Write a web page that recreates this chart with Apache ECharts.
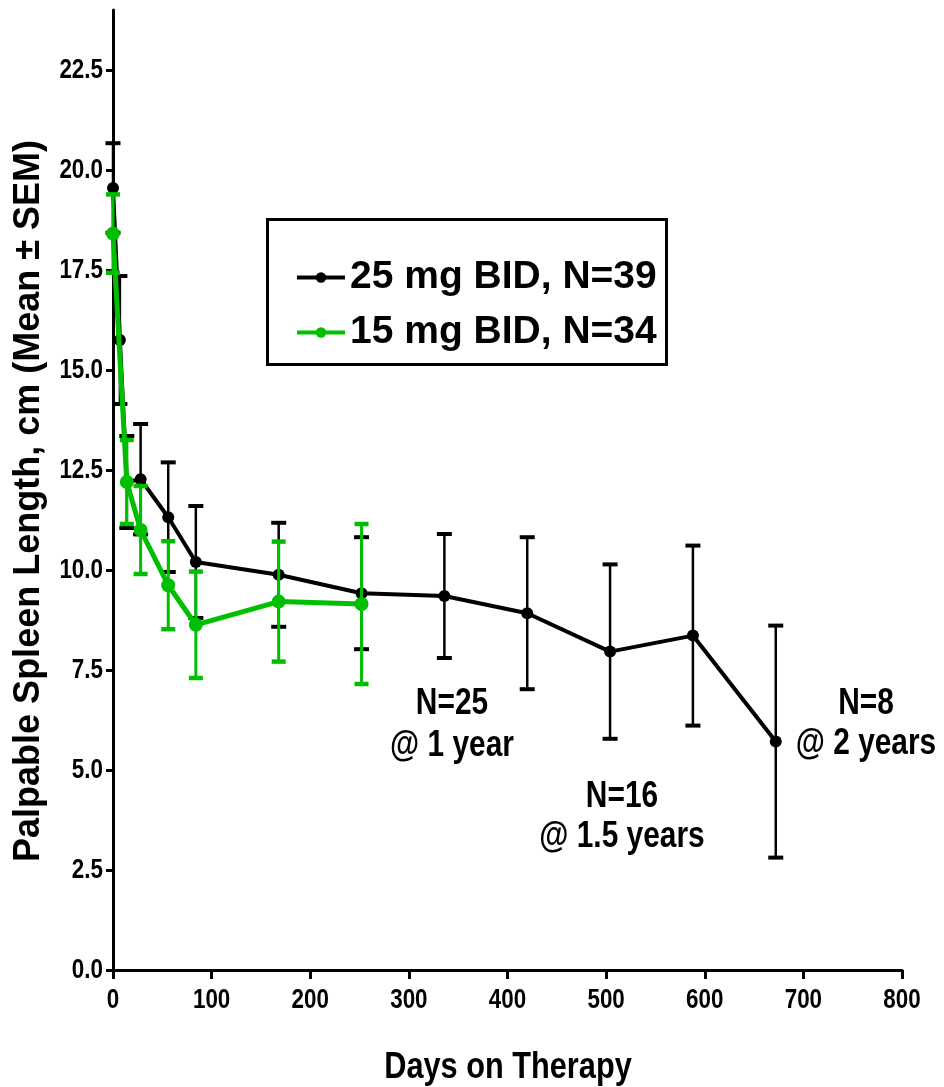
<!DOCTYPE html>
<html>
<head>
<meta charset="utf-8">
<script src="https://cdn.jsdelivr.net/npm/echarts@6/dist/echarts.min.js"></script>
<style>
  html, body { margin: 0; padding: 0; background: #fff; }
  #chart { width: 944px; height: 1087px; }
</style>
</head>
<body>
<div id="chart"></div>
<script>
// 25 mg BID, N=39
const days25 = [0, 7, 14, 28, 56, 84, 168, 252, 336, 420, 504, 588, 672];
const mean25 = [19.55, 15.75, 12.2, 12.27, 11.32, 10.2, 9.88, 9.42, 9.35, 8.92, 7.96, 8.36, 5.71];
const sem25 = [1.12, 1.6, 1.15, 1.38, 1.37, 1.4, 1.3, 1.4, 1.55, 1.9, 2.18, 2.25, 2.9];

// 15 mg BID, N=34
const days15 = [0, 14, 28, 56, 84, 168, 252];
const mean15 = [18.41, 12.2, 11.0, 9.62, 8.63, 9.21, 9.15];
const sem15 = [0.98, 1.05, 1.1, 1.1, 1.33, 1.5, 2.0];

const seriesNames = ['25 mg BID, N=39', '15 mg BID, N=34'];
const xTicks = [0, 100, 200, 300, 400, 500, 600, 700, 800];
const yTicks = [0, 2.5, 5, 7.5, 10, 12.5, 15, 17.5, 20, 22.5];

const BLACK = '#000000';
const GREEN = '#00bf00';
const SANS = '"Liberation Sans", Arial, sans-serif';
const SQUEEZE = 0.83; // no narrow face installed, so squeeze the bold sans

function toPoints(days, means) {
    return days.map((d, i) => [d, means[i]]);
}

function toBars(days, means, sems) {
    return days.map((d, i) => [d, means[i] - sems[i], means[i] + sems[i]]);
}

// vertical error bar with caps
function errorBarRenderer(color, lineWidth, capHalf) {
    return function (params, api) {
        const hi = api.coord([api.value(0), api.value(2)]);
        const lo = api.coord([api.value(0), api.value(1)]);
        const capStyle = { stroke: color, lineWidth: lineWidth + 1.5 };
        return {
            type: 'group',
            children: [
                { type: 'line', shape: { x1: hi[0], y1: hi[1], x2: lo[0], y2: lo[1] }, style: { stroke: color, lineWidth: lineWidth } },
                { type: 'line', shape: { x1: hi[0] - capHalf, y1: hi[1], x2: hi[0] + capHalf, y2: hi[1] }, style: capStyle },
                { type: 'line', shape: { x1: lo[0] - capHalf, y1: lo[1], x2: lo[0] + capHalf, y2: lo[1] }, style: capStyle }
            ]
        };
    };
}

function narrowText(id, x, y, text, size, align, vAlign, lineHeight) {
    return {
        id: id,
        type: 'text',
        x: x,
        y: y,
        scaleX: SQUEEZE,
        z: 20,
        style: {
            text: text,
            align: align,
            verticalAlign: vAlign,
            lineHeight: lineHeight || size,
            font: 'bold ' + size + 'px ' + SANS,
            fill: '#000'
        }
    };
}

const chart = echarts.init(document.getElementById('chart'));

const option = {
    animation: false,
    backgroundColor: '#fff',
    grid: { left: 113, right: 42, top: 10, bottom: 117, outerBoundsMode: 'none', containLabel: false },
    legend: {
        orient: 'vertical',
        left: 290,
        top: 253,
        itemWidth: 48,
        itemHeight: 13,
        itemGap: 16,
        data: [
            { name: seriesNames[0], lineStyle: { width: 4 } },
            { name: seriesNames[1], lineStyle: { width: 4 } }
        ],
        textStyle: { fontFamily: SANS, fontWeight: 'bold', fontSize: 39, color: '#000' }
    },
    xAxis: {
        type: 'value',
        min: 0,
        max: 800,
        interval: 100,
        axisLine: { show: true, onZero: false, lineStyle: { color: '#000', width: 3 } },
        axisTick: { show: true, length: 9, lineStyle: { color: '#000', width: 3 } },
        axisLabel: { show: false },
        splitLine: { show: false }
    },
    yAxis: {
        type: 'value',
        min: 0,
        max: 24,
        name: 'Palpable Spleen Length, cm (Mean \u00b1 SEM)',
        nameLocation: 'middle',
        nameGap: 66,
        nameRotate: 90,
        nameTextStyle: { fontFamily: SANS, fontWeight: 'bold', fontSize: 36, color: '#000', padding: [0, 22, 0, 0] },
        axisLine: { show: true, onZero: false, lineStyle: { color: '#000', width: 3 } },
        axisTick: { show: true, length: 7, customValues: yTicks, lineStyle: { color: '#000', width: 3 } },
        axisLabel: { show: false },
        splitLine: { show: false }
    },
    series: [
        {
            type: 'custom',
            name: seriesNames[0] + ' SEM',
            renderItem: errorBarRenderer(BLACK, 2.5, 7.5),
            data: toBars(days25, mean25, sem25),
            encode: { x: 0, y: [1, 2] },
            z: 2
        },
        {
            type: 'line',
            name: seriesNames[0],
            data: toPoints(days25, mean25),
            symbol: 'circle',
            symbolSize: 12,
            lineStyle: { color: BLACK, width: 4 },
            itemStyle: { color: BLACK },
            z: 3
        },
        {
            type: 'custom',
            name: seriesNames[1] + ' SEM',
            renderItem: errorBarRenderer(GREEN, 3, 7),
            data: toBars(days15, mean15, sem15),
            encode: { x: 0, y: [1, 2] },
            z: 4
        },
        {
            type: 'line',
            name: seriesNames[1],
            data: toPoints(days15, mean15),
            symbol: 'circle',
            symbolSize: 14,
            lineStyle: { color: GREEN, width: 5 },
            itemStyle: { color: GREEN },
            z: 5
        }
    ]
};

chart.setOption(option);

// tick labels, axis title and notes as squeezed text, placed through the axis scales
const x0 = chart.convertToPixel({ xAxisIndex: 0 }, 0);
const y0 = chart.convertToPixel({ yAxisIndex: 0 }, 0);
const graphics = [
    {
        id: 'legendBox',
        type: 'rect',
        shape: { x: 267.5, y: 219.5, width: 399, height: 145 },
        style: { fill: null, stroke: '#000', lineWidth: 3 },
        z: 10
    },
    narrowText('xname', 508, 1068, 'Days on Therapy', 37, 'center', 'middle'),
    narrowText('n25', 452, 725, 'N=25\n@ 1 year', 36, 'center', 'middle', 42),
    narrowText('n16', 622, 817, 'N=16\n@ 1.5 years', 36, 'center', 'middle', 40),
    narrowText('n8', 866, 724, 'N=8\n@ 2 years', 36, 'center', 'middle', 40)
];
xTicks.forEach((v, i) => {
    const px = chart.convertToPixel({ xAxisIndex: 0 }, v);
    graphics.push(narrowText('xt' + i, px, y0 + 31, String(v), 27, 'center', 'middle'));
});
yTicks.forEach((v, i) => {
    const py = chart.convertToPixel({ yAxisIndex: 0 }, v);
    graphics.push(narrowText('yt' + i, x0 - 10, py + 1, v.toFixed(1), 27, 'right', 'middle'));
});
chart.setOption({ graphic: graphics });

window.addEventListener('resize', chart.resize);
</script>
</body>
</html>
